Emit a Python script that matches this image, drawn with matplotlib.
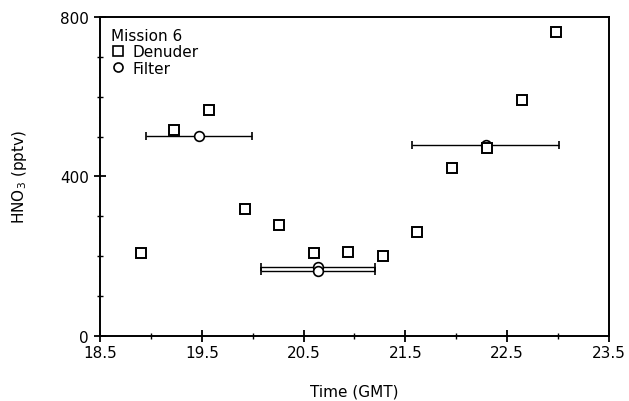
import numpy as np
import matplotlib.pyplot as plt
from matplotlib.ticker import MultipleLocator
from matplotlib.lines import Line2D

plt.rcParams['font.family'] = 'DejaVu Sans'
plt.rcParams['font.size'] = 11

# Denuder HNO3 (pptv) vs time (GMT)
den_time = [18.90, 19.23, 19.57, 19.92, 20.26, 20.60, 20.94, 21.28, 21.61, 21.96, 22.30, 22.65, 22.98]
den_hno3 = [208, 516, 566, 318, 278, 208, 210, 200, 261, 421, 471, 592, 762]

# Filter samples: centre time, half sampling interval, HNO3
fil_time = [19.47, 20.64, 20.64, 22.29]
fil_half = [0.52, 0.56, 0.56, 0.72]
fil_hno3 = [501, 173, 163, 479]

xticks = [18.5, 19.5, 20.5, 21.5, 22.5, 23.5]
xticklabels = ['18.5', '19.5', '20.5', '21.5', '22.5', '23.5']
yticks = [0, 400, 800]

fig = plt.figure(figsize=(6.29, 4.02), dpi=100)
ax = fig.add_axes([0.159, 0.162, 0.809, 0.793])

ax.errorbar(fil_time, fil_hno3, xerr=fil_half, fmt='o', mfc='white', mec='black',
            ecolor='black', ms=7, mew=1.2, elinewidth=1.0, capsize=3, capthick=1.0,
            zorder=3)
ax.plot(den_time, den_hno3, 's', mfc='white', mec='black', ms=7.5, mew=1.4, zorder=4)

ax.set_xlim(18.5, 23.5)
ax.set_ylim(0, 800)
ax.set_xticks(xticks)
ax.set_xticklabels(xticklabels)
ax.set_yticks(yticks)
ax.xaxis.set_minor_locator(MultipleLocator(0.5))
ax.yaxis.set_minor_locator(MultipleLocator(100))
ax.tick_params(which='major', direction='inout', length=9, width=1.3, top=False, right=False)
ax.tick_params(which='minor', direction='inout', length=5, width=1.0, top=False, right=False)
ax.tick_params(axis='x', which='major', pad=2)

for s in ax.spines.values():
    s.set_linewidth(1.4)

ax.set_xlabel('Time (GMT)', labelpad=17)
ax.set_ylabel('HNO$_3$ (pptv)', labelpad=22)

handles = [
    Line2D([], [], ls='none', marker='s', mfc='white', mec='black', ms=6.5, mew=1.2),
    Line2D([], [], ls='none', marker='o', mfc='white', mec='black', ms=6.5, mew=1.2),
]
ax.legend(handles, ['Denuder', 'Filter'], title='Mission 6', loc='upper left',
          frameon=False, handletextpad=0.4, borderaxespad=0.3,
          labelspacing=0.1, handlelength=1.0, alignment='left')

fig.savefig('out.png', dpi=100)
